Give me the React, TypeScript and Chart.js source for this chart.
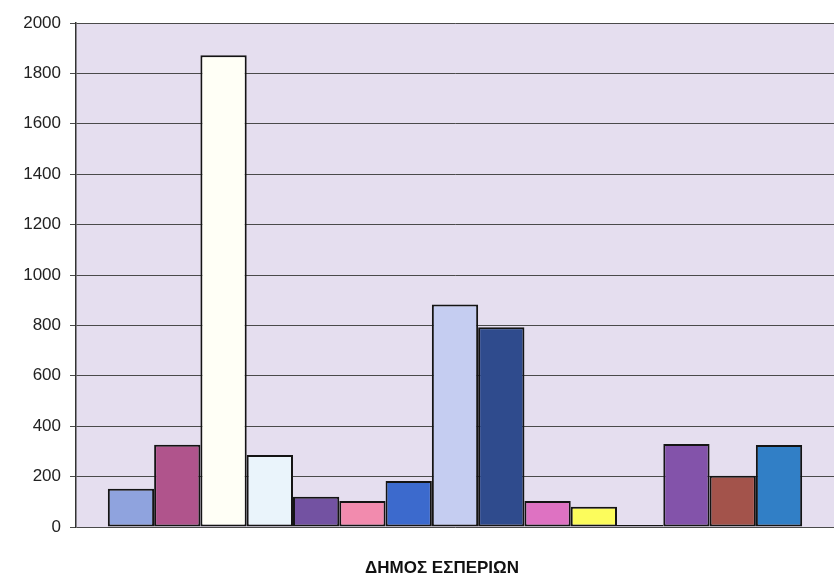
import React, { useEffect, useRef } from "react";
import { Chart, registerables } from "chart.js";

Chart.register(...registerables);

const categories = ["ΔΗΜΟΣ ΕΣΠΕΡΙΩΝ"];
const seriesNames = [
  "Σειρά 1", "Σειρά 2", "Σειρά 3", "Σειρά 4", "Σειρά 5",
  "Σειρά 6", "Σειρά 7", "Σειρά 8", "Σειρά 9", "Σειρά 10",
  "Σειρά 11", "Σειρά 12", "Σειρά 13", "Σειρά 14", "Σειρά 15",
];
const seriesValues = [152, 326, 1872, 286, 120, 103, 183, 883, 793, 103, 80, 8, 329, 203, 325];
const seriesColors = [
  "#8FA3DE", "#B0548C", "#FFFFF6", "#EAF4FB", "#7352A2",
  "#F28BAE", "#3C6ACD", "#C5CDF1", "#2F4B8D", "#DE72C2",
  "#FCFC5C", "#D8D0EE", "#8353AA", "#A3534B", "#317FC6",
];
const yTicks = [0, 200, 400, 600, 800, 1000, 1200, 1400, 1600, 1800, 2000];

const plotBg = {
  id: "plotBg",
  beforeDraw(chart: any) {
    const { ctx, chartArea } = chart;
    ctx.save();
    ctx.fillStyle = "#E5DEEF";
    ctx.fillRect(chartArea.left, chartArea.top, chartArea.right - chartArea.left, chartArea.bottom - chartArea.top);
    ctx.restore();
  },
};

export default function App() {
  const ref = useRef<HTMLCanvasElement>(null);
  useEffect(() => {
    if (!ref.current) return;
    const chart = new Chart(ref.current, {
      type: "bar",
      data: {
        labels: categories,
        datasets: seriesValues.map((v, i) => ({
          label: seriesNames[i],
          data: [v],
          backgroundColor: seriesColors[i],
          borderColor: "#141414",
          borderWidth: 2,
          borderSkipped: false,
        })),
      },
      options: {
        animation: false,
        responsive: false,
        maintainAspectRatio: false,
        layout: { padding: { top: 23, right: 0, bottom: 0, left: 0 } },
        plugins: { legend: { display: false }, tooltip: { enabled: false } },
        datasets: { bar: { categoryPercentage: 0.916, barPercentage: 1 } },
        scales: {
          x: {
            grid: { display: false, drawTicks: false },
            border: { display: false },
            ticks: {
              padding: 31,
              labelOffset: -13,
              color: "#111",
              font: { family: "Liberation Sans, Arial, sans-serif", size: 17, weight: "bold" },
            },
            afterFit(axis: any) {
              axis.height = 47;
            },
          },
          y: {
            min: 0,
            max: 2000,
            afterBuildTicks(axis: any) {
              axis.ticks = yTicks.map((v) => ({ value: v }));
            },
            grid: { color: "#4a4a4a", lineWidth: 1, tickLength: 6 },
            border: { display: true, color: "#333", width: 1.5 },
            ticks: {
              padding: 9,
              color: "#222",
              font: { family: "Liberation Sans, Arial, sans-serif", size: 17 },
              callback: (v: any) => String(v),
            },
            afterFit(axis: any) {
              axis.width = 76;
            },
          },
        },
      },
      plugins: [plotBg],
    });
    return () => chart.destroy();
  }, []);
  return (
    <div style={{ position: "fixed", left: 0, top: 0, width: 834, height: 574, background: "#fff" }}>
      <canvas ref={ref} width={834} height={574} style={{ width: 834, height: 574, display: "block" }} />
    </div>
  );
}
